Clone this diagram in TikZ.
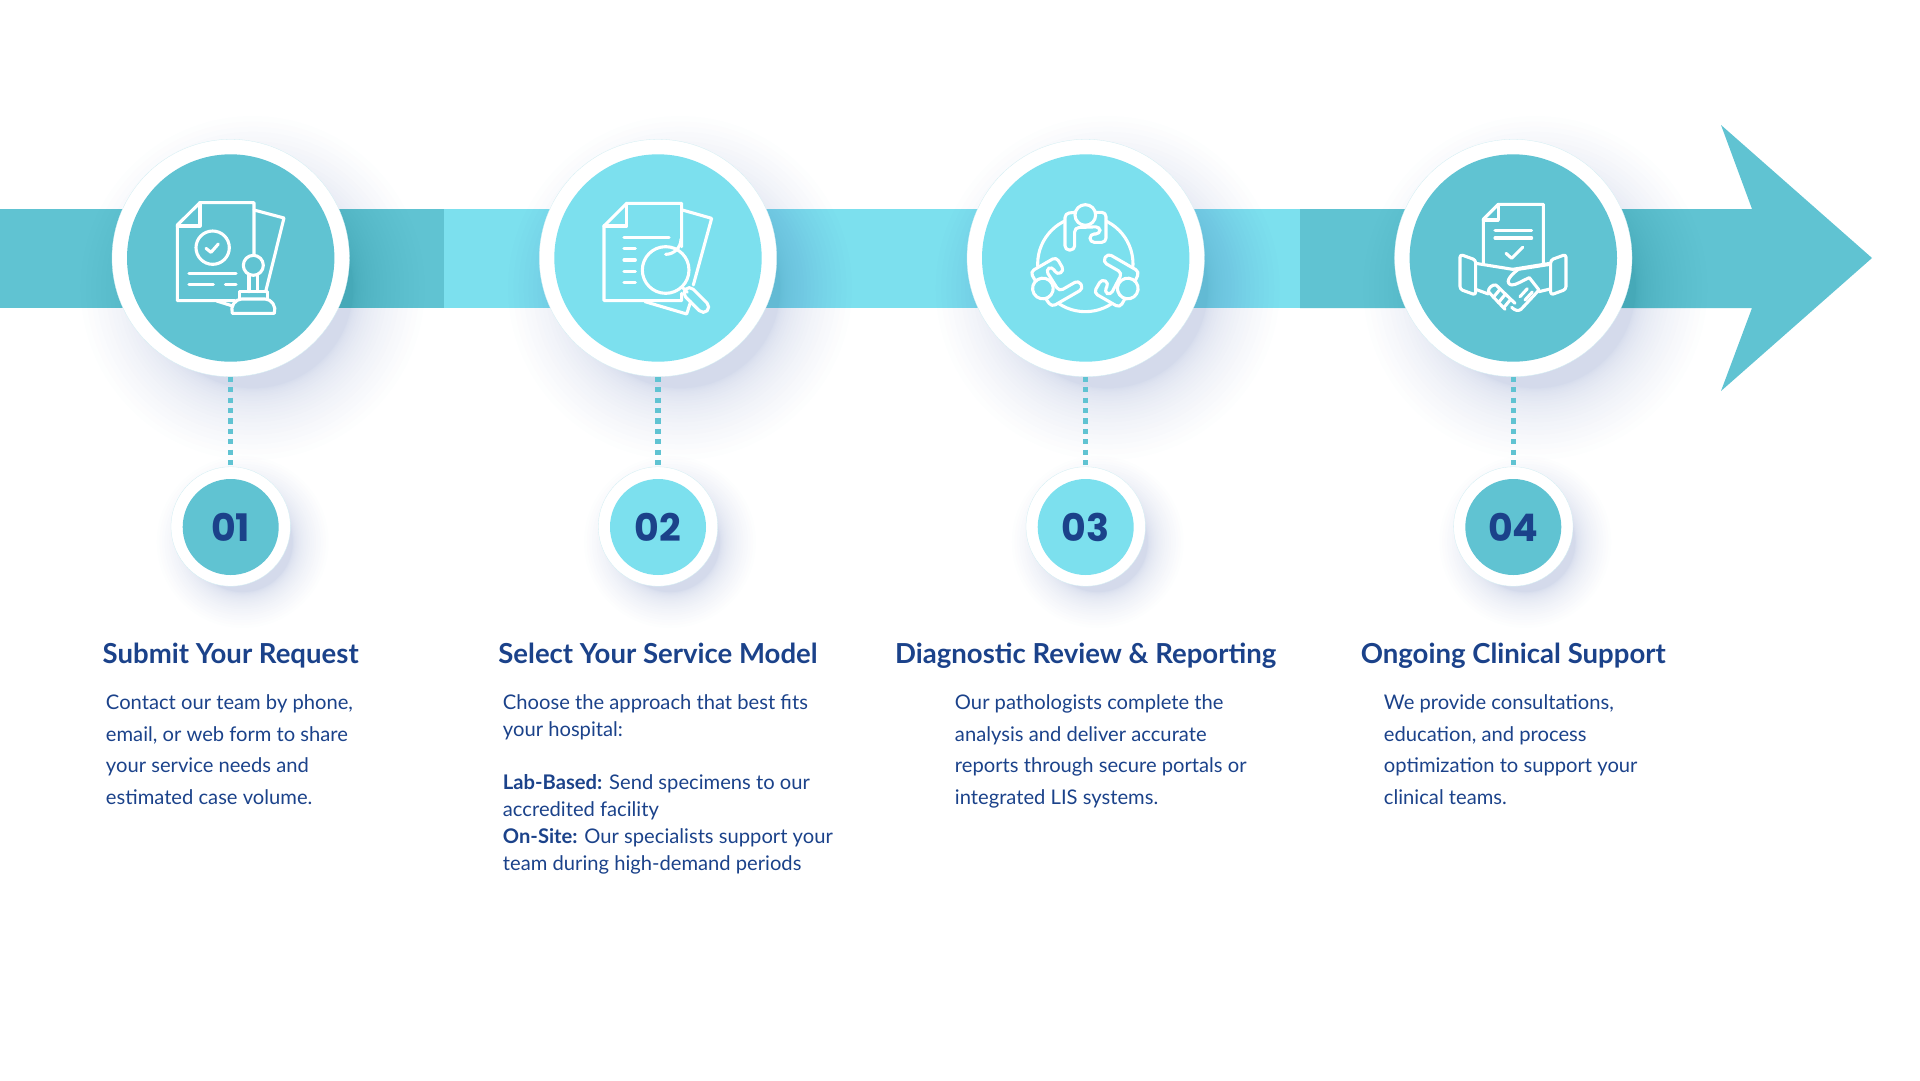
\documentclass[tikz,border=0pt]{standalone}
\usepackage{fontspec}
\setmainfont{Lato}
\newfontfamily\numfont{Poppins}
\usetikzlibrary{calc}
\definecolor{StepDark}{HTML}{60C3D2}
\definecolor{StepLight}{HTML}{7CE0EE}
\definecolor{StepNavy}{HTML}{1B428A}
\definecolor{ShadowBlue}{HTML}{2A4A9E}
\begin{document}
\begin{tikzpicture}[
    x=0.25mm, y=-0.25mm,
    band/.style={fill=#1, draw=none},
    halo/.style={circle, fill=white, draw=StepDark!30, line width=0.2pt, inner sep=0pt, minimum size=#1*0.25mm},
    disc/.style={circle, fill=#1, inner sep=0pt},
    softshadow/.style={fill=ShadowBlue, fill opacity=0.0095},
    nummark/.style={font=\numfont\bfseries\fontsize{27}{27}\selectfont, text=StepNavy},
    title/.style={font=\bfseries\fontsize{19.6}{22}\selectfont, text=StepNavy, anchor=base},
    body/.style={font=\fontsize{14.35}{22.6}\selectfont, text=StepNavy, align=left, anchor=north west},
    tightbody/.style={font=\fontsize{14.35}{19.1}\selectfont, text=StepNavy, align=left, anchor=north west},
    dots/.style={StepDark, line width=3.7pt, dash pattern=on 3.7pt off 3.7pt},
    icon/.style={shift={#1}, x=0.08333mm, y=-0.08333mm, white, line width=2.2pt, line join=round, line cap=round},
  ]
    \useasboundingbox (0,0) rectangle (1920,1080);
    % Banda de fondo
    \fill[band=StepDark] (0,209) rectangle (444,308);
    \fill[band=StepLight] (444,209) rectangle (871,308);
    \fill[band=StepLight] (871,209) rectangle (1300,308);
    \fill[band=StepDark] (1300,209) -- (1752,209) -- (1721,125) -- (1872,258) -- (1721,391) -- (1752,308) -- (1300,308) -- cycle;

    % Sombras y circulos
    \foreach \n/\cx/\col/\num in {a/230.7/StepDark/01, b/658/StepLight/02, c/1085.7/StepLight/03, d/1513.3/StepDark/04}{
      \foreach \i in {1,...,26}
        \fill[softshadow] (\cx+22,258+30) circle ({100+72*(\i/26)^2});
      \node[halo=237.4] (\n big) at (\cx,258) {};
      \node[disc=\col, minimum size=207.4*0.25mm] (\n in) at (\cx,258) {};
      \foreach \i in {1,...,26}
        \fill[softshadow] (\cx+12,526+16) circle ({50+36*(\i/26)^2});
      \node[halo=119.4] (\n small) at (\cx,526.5) {};
      \node[disc=\col, minimum size=96*0.25mm, nummark] (\n num) at (\cx,527) {\num};
      \draw[dots] (\n big.south) -- (\n small.north);
    }

    % Icono 1: documento y sello
    \begin{scope}[icon={(100,120)}]
      \draw (462,270) -- (552,294) -- (497,515);
      \draw (350,543) -- (395,557);
      \draw (462,405) -- (462,248) -- (300,248) -- (232,315) -- (232,542) -- (405,542);
      \draw (300,248) -- (300,318) -- (232,318);
      \draw (338,383) circle (50);
      \draw (318,385) -- (333,397) -- (355,372);
      \draw (267,460) -- (408,460);
      \draw (267,493) -- (340,493);
      \draw (376,493) -- (408,493);
      \draw (460,436) circle (30);
      \draw (447,464) -- (447,515);
      \draw (473,464) -- (473,515);
      \draw (418,537) -- (418,515) -- (503,515) -- (503,537);
      \draw (397,580) .. controls (390,560) and (405,537) .. (425,537) -- (495,537) .. controls (515,537) and (530,560) .. (523,580) -- cycle;
    \end{scope}

    % Icono 2: documento y lupa
    \begin{scope}[icon={(530,120)}]
      \draw (457,270) -- (545,295) -- (490,495);
      \draw (345,545) -- (470,582) -- (482,545);
      \draw (455,380) -- (455,250) -- (290,250) -- (222,318) -- (222,542) -- (455,542) -- (455,520);
      \draw (290,250) -- (290,318) -- (222,318);
      \draw (282,352) -- (417,352);
      \foreach \y in {385,420,454,488}
        \draw (282,\y) -- (316,\y);
      \draw (407,450) circle (70);
      \draw (407,403) arc (-90:0:3.83mm);
      \draw (458,503) -- (472,517);
      \draw[rounded corners=4pt] (478,496) -- (543,561) -- (520,584) -- (455,519) -- cycle;
    \end{scope}

    % Icono 3: tres personas en torno a una mesa
    \begin{scope}[icon={(960,120)}]
      \draw (376,432) circle (143);
      \foreach \a in {0,120,240}{
        \begin{scope}[rotate around={\a:(376,432)}]
          \filldraw[fill=StepLight, rounded corners=3pt] (346,277) -- (315,280) -- (315,390) -- (344,390) -- (344,323) -- (420,320) -- (420,342) -- (390,342) -- (390,367) -- (438,367) -- (438,277) -- (406,277);
          \filldraw[fill=StepLight] (376,285) circle (31);
        \end{scope}
      }
    \end{scope}

    % Icono 4: acuerdo y apreton de manos
    \begin{scope}[icon={(1390,110)}]
      \draw (460,462) -- (460,283) -- (325,283) -- (280,328) -- (280,458);
      \draw (325,283) -- (325,330) -- (280,330);
      \draw (315,362) -- (425,362);
      \draw (315,384) -- (425,384);
      \draw (348,430) -- (365,445) -- (398,412);
      \draw[rounded corners=2pt] (210,433) -- (257,450) -- (257,555) -- (210,538) -- cycle;
      \draw[rounded corners=2pt] (528,433) -- (482,450) -- (482,555) -- (528,538) -- cycle;
    \end{scope}
    \begin{scope}[icon={(1440,220)}]
      \draw (107,130) -- (218,148) -- (330,130);
      \draw (107,208) -- (145,222);
      \draw (330,207) -- (297,215);
      \draw (330,133) -- (235,148) .. controls (205,170) and (195,190) .. (215,195) .. controls (230,195) and (250,180) .. (268,173) -- (297,210) -- (243,268) .. controls (235,274) and (225,272) .. (215,262);
      \draw (145,215) -- (195,268);
      \draw (145,215) .. controls (145,205) and (155,193) .. (168,195) -- (225,250);
      \draw (180,208) -- (160,232);
      \draw (195,224) -- (175,248);
      \draw (212,238) -- (192,262);
      \draw (240,230) -- (262,206);
      \draw (255,240) -- (277,216);
    \end{scope}

    % Titulos
    \node[title] (ta) at (230.7,663) {Submit Your Request};
    \node[title] (tb) at (658,663) {Select Your Service Model};
    \node[title] (tc) at (1085.7,663) {Diagnostic Review \& Reporting};
    \node[title] (td) at (1513.3,663) {Ongoing Clinical Support};

    % Textos
    \node[body] (xa) at (101,689.5) {Contact our team by phone,\\email, or web form to share\\your service needs and\\estimated case volume.};
    \node[tightbody] (xb) at (498,689.5) {Choose the approach that best fits\\your hospital:};
    \node[body] (xc) at (950,689.5) {Our pathologists complete the\\analysis and deliver accurate\\reports through secure portals or\\integrated LIS systems.};
    \node[body] (xd) at (1379,689.5) {We provide consultations,\\education, and process\\optimization to support your\\clinical teams.};
    \node[tightbody] (xe) at (498,770) {\textbf{Lab-Based:} Send specimens to our\\accredited facility\\\textbf{On-Site:} Our specialists support your\\team during high-demand periods};
  \end{tikzpicture}
\end{document}
